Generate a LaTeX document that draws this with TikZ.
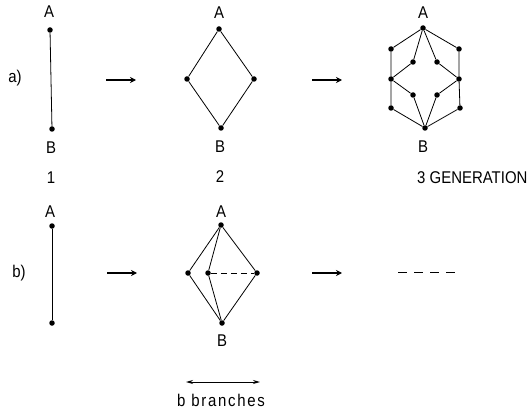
\documentclass[tikz,border=0pt]{standalone}
\usepackage{fontspec}
\setmainfont{Liberation Sans}[FakeStretch=0.88]
\usetikzlibrary{arrows.meta}
\begin{document}
\begin{tikzpicture}[x=1pt,y=-1pt,
  dot/.style={circle,fill=black,inner sep=0pt,minimum size=5.5pt},
  edge/.style={line width=0.8pt},
  lbl/.style={inner sep=0pt,font=\fontsize{17}{17}\selectfont},
  stage/.style={line width=2pt,-{Stealth[length=6pt,width=6pt]}},
  span/.style={line width=1pt,{Stealth[length=7pt,width=4pt]}-{Stealth[length=7pt,width=4pt]}}]
\useasboundingbox (0,0) rectangle (531,412);

% ---------- row a) ----------
\node[lbl] (la) at (15,78) {a)};

% generation 1
\node[dot] (a1t) at (50,30) {};
\node[dot] (a1b) at (52,129) {};
\draw[edge] (a1t) -- (a1b);
\node[lbl] at (49,12) {A};
\node[lbl] at (51,148) {B};
\node[lbl] at (51,178) {1};

\coordinate (ar1s) at (106,80);
\coordinate (ar1e) at (136,80);
\draw[stage] (ar1s) -- (ar1e);

% generation 2
\node[dot] (a2t) at (219,29) {};
\node[dot] (a2l) at (187,79) {};
\node[dot] (a2r) at (254,79) {};
\node[dot] (a2b) at (221,128) {};
\draw[edge] (a2t) -- (a2l) -- (a2b) -- (a2r) -- (a2t);
\node[lbl] at (219,13) {A};
\node[lbl] at (220,147) {B};
\node[lbl] at (220,177) {2};

\coordinate (ar2s) at (312,80);
\coordinate (ar2e) at (342,80);
\draw[stage] (ar2s) -- (ar2e);

% generation 3
\node[dot] (g3t)  at (423,28) {};
\node[dot] (g3ul) at (391,49) {};
\node[dot] (g3ur) at (459,49) {};
\node[dot] (g3il) at (413,62) {};
\node[dot] (g3ir) at (437,62) {};
\node[dot] (g3ml) at (391,79) {};
\node[dot] (g3mr) at (459,79) {};
\node[dot] (g3jl) at (413,95) {};
\node[dot] (g3jr) at (437,95) {};
\node[dot] (g3ll) at (391,108) {};
\node[dot] (g3lr) at (460,108) {};
\node[dot] (g3b)  at (425,128) {};
\draw[edge] (g3t) -- (g3ul) -- (g3ml) -- (g3ll) -- (g3b);
\draw[edge] (g3t) -- (g3ur) -- (g3mr) -- (g3lr) -- (g3b);
\draw[edge] (g3t) -- (g3il) -- (g3ml) -- (g3jl) -- (g3b);
\draw[edge] (g3t) -- (g3ir) -- (g3mr) -- (g3jr) -- (g3b);
\node[lbl] at (423,13) {A};
\node[lbl] at (423,147) {B};
\node[lbl,anchor=west] at (417,178) {3 GENERATION};

% ---------- row b) ----------
\node[lbl] (lb) at (19,273) {b)};

\node[dot] (b1t) at (52,226) {};
\node[dot] (b1b) at (52,323) {};
\draw[edge] (b1t) -- (b1b);
\node[lbl] at (50,212) {A};

\coordinate (br1s) at (107,273);
\coordinate (br1e) at (137,273);
\draw[stage] (br1s) -- (br1e);

\node[dot] (b2t) at (221,225) {};
\node[dot] (b2l) at (188,273) {};
\node[dot] (b2i) at (208,273) {};
\node[dot] (b2r) at (257,273) {};
\node[dot] (b2b) at (222,323) {};
\draw[edge] (b2t) -- (b2l) -- (b2b);
\draw[edge] (b2t) -- (b2i) -- (b2b);
\draw[edge] (b2t) -- (b2r) -- (b2b);
\draw[edge,dash pattern=on 6pt off 4pt] (b2i) -- (b2r);
\node[lbl] at (221,212) {A};
\node[lbl] at (222,341) {B};

\coordinate (br2s) at (312,273);
\coordinate (br2e) at (342,273);
\draw[stage] (br2s) -- (br2e);

\coordinate (cs) at (398,272);
\coordinate (ce) at (458,272);
\draw[line width=0.9pt,dash pattern=on 9pt off 7pt] (cs) -- (ce);

\coordinate (ws) at (186,382);
\coordinate (we) at (260,382);
\draw[span] (ws) -- (we);
\node[lbl] at (221,400) {\addfontfeature{LetterSpace=10}b branches};
\end{tikzpicture}
\end{document}
